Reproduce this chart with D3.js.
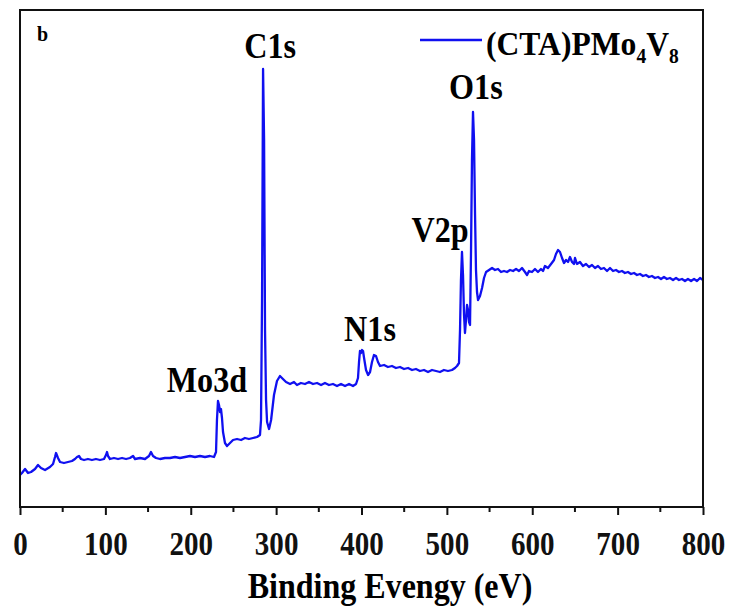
<!DOCTYPE html>
<html>
<head>
<meta charset="utf-8">
<script src="https://cdn.jsdelivr.net/npm/d3@7"></script>
<style>
  body { margin: 0; background: #fff; }
  text { font-family: "Liberation Serif", "Times New Roman", serif; font-weight: bold; }
</style>
</head>
<body>
<div id="chart"></div>
<script>
// Survey spectrum, binding energy (eV) and intensity (a.u.)
const energy = [
  0, 2.3, 5.9, 9.4, 12.9, 17.6, 21.1, 24.6, 29.3, 35.1, 38.7, 41, 42.2, 44.5, 46.9, 51.5, 56.2, 60.9, 64.4, 66.8,
  69.1, 71.4, 75, 79.6, 84.3, 89, 93.7, 98.4, 100.7, 101.9, 103.1, 105.4, 110.1, 114.8, 119.5, 124.2, 128.8, 132.4, 134.7, 140.6,
  146.4, 151.1, 153.4, 155.8, 159.3, 164, 169.8, 175.7, 181.6, 187.4, 193.3, 199.1, 205, 210.8, 216.7, 222.5, 227.2, 229.6, 230.7, 231.9,
  233.1, 234.3, 235.4, 236.6, 237.8, 240.1, 242.5, 246, 249.5, 254.2, 258.9, 263.5, 268.2, 272.9, 277.6, 281.1, 282.3, 283.5, 284.7, 285.9,
  287, 288.2, 289.4, 291.7, 294.1, 297.5, 301, 304.5, 308, 311.6, 316.3, 320.9, 324.4, 329.1, 333.8, 338.5, 343.2, 347.9, 352.6, 357.2,
  361.9, 366.6, 371.3, 376, 380.7, 385.4, 390, 393.6, 395.9, 397.1, 398.2, 399.4, 400.6, 401.8, 403, 405.3, 407.7, 410, 412.3, 414.6,
  417, 419.3, 421.7, 426.4, 431, 435.7, 440.4, 445.1, 449.8, 454.5, 459.2, 463.8, 468.5, 473.2, 477.9, 482.6, 487.3, 491.9, 496.6, 501.3,
  506, 509.5, 511.9, 514.2, 515.4, 516.5, 517.7, 518.9, 520.1, 521.2, 522.4, 523.6, 524.8, 525.9, 527.1, 528.3, 529.4, 530.6, 531.8, 533,
  534.1, 535.3, 536.5, 538.8, 541.2, 543.5, 545.9, 549.4, 552.9, 556.4, 559.9, 563.4, 566.9, 570.4, 574, 577.5, 581, 584.5, 588, 591.5,
  593.9, 596.2, 599.7, 603.2, 606.7, 610.2, 612.6, 614.9, 618.4, 622, 625.5, 627.8, 630.2, 632.5, 634.9, 637.2, 639.6, 641.9, 644.2, 646.6,
  648.9, 650.1, 652.4, 655.9, 659.4, 663, 666.5, 670, 673.5, 677, 680.5, 684, 687.6, 691.1, 694.6, 698.1, 701.6, 705.1, 708.6, 712.1,
  715.7, 719.2, 722.7, 726.2, 729.7, 733.2, 736.7, 740.2, 743.8, 747.3, 750.8, 754.3, 757.8, 761.3, 764.9, 768.4, 771.9, 775.4, 778.9, 782.4,
  786, 789.5, 793, 796.5, 800
];
const intensity = [
  32, 34, 38, 34, 35, 38, 42, 39, 37, 40, 43, 50, 54, 49, 45, 44, 45, 46, 48, 50,
  51, 48, 47, 48, 47, 48, 47, 48, 52, 55, 51, 48, 49, 48, 49, 48, 49, 51, 48, 49,
  48, 51, 55, 51, 49, 48, 49, 49, 50, 49, 50, 51, 50, 51, 50, 51, 50, 55, 87, 106,
  102, 95, 98, 89, 75, 64, 61, 64, 67, 68, 67, 69, 68, 69, 70, 72, 87, 207, 438, 367,
  177, 107, 85, 78, 87, 112, 126, 131, 128, 125, 123, 125, 122, 124, 123, 125, 123, 124, 122, 124,
  122, 123, 121, 123, 121, 123, 121, 123, 129, 145, 156, 154, 157, 156, 149, 137, 132, 135, 145, 152,
  151, 145, 141, 142, 140, 141, 139, 140, 138, 139, 137, 138, 136, 137, 135, 137, 136, 135, 137, 136,
  137, 139, 141, 144, 177, 227, 255, 232, 192, 174, 187, 202, 197, 185, 182, 257, 347, 395, 367, 292,
  237, 215, 207, 211, 219, 229, 235, 237, 239, 237, 238, 235, 236, 235, 237, 236, 238, 236, 239, 235,
  232, 236, 235, 238, 235, 238, 236, 241, 239, 243, 247, 253, 257, 255, 249, 244, 247, 245, 250, 245,
  243, 249, 243, 245, 241, 243, 240, 242, 239, 241, 238, 239, 236, 239, 236, 237, 235, 236, 234, 235,
  233, 234, 232, 233, 231, 232, 230, 231, 229, 230, 228, 230, 228, 229, 227, 229, 227, 228, 226, 228,
  226, 228, 226, 229, 227
];
const xTicks = [0, 100, 200, 300, 400, 500, 600, 700, 800];
const xMinorTicks = [50, 150, 250, 350, 450, 550, 650, 750];
const peakNames = ["Mo3d", "C1s", "N1s", "V2p", "O1s"];
const peakEnergy = [219, 293, 410, 492, 534];
const peakLabelI = [115, 449, 166, 265, 408];

const width = 732, height = 615;
const margin = { top: 10, right: 29, bottom: 108, left: 20 };

const svg = d3.select("#chart").append("svg")
  .attr("width", width)
  .attr("height", height);

const x = d3.scaleLinear().domain([0, 800]).range([margin.left, width - margin.right]);
const y = d3.scaleLinear().domain([0, 497]).range([height - margin.bottom, margin.top]);

const points = energy.map((e, i) => [e, intensity[i]]);

// spectrum
svg.append("path")
  .datum(points)
  .attr("fill", "none")
  .attr("stroke", "#1010f0")
  .attr("stroke-width", 2.3)
  .attr("stroke-linejoin", "round")
  .attr("d", d3.line().x(d => x(d[0])).y(d => y(d[1])));

// frame
svg.append("rect")
  .attr("x", x(0)).attr("y", y(497))
  .attr("width", x(800) - x(0)).attr("height", y(0) - y(497))
  .attr("fill", "none").attr("stroke", "#111").attr("stroke-width", 2);

// x axis
const axis = svg.append("g")
  .attr("transform", `translate(0,${y(0)})`)
  .call(d3.axisBottom(x).tickValues(xTicks).tickSize(8).tickFormat(d3.format("d")));
axis.select(".domain").remove();
axis.selectAll(".tick line").attr("stroke", "#111").attr("stroke-width", 2);
axis.selectAll(".tick text")
  .attr("y", 48).attr("dy", 0)
  .attr("fill", "#111")
  .style("font-size", "33px")
  .attr("transform", "scale(0.88,1)");

svg.append("g")
  .selectAll("line")
  .data(xMinorTicks)
  .join("line")
  .attr("x1", d => x(d)).attr("x2", d => x(d))
  .attr("y1", y(0)).attr("y2", y(0) + 5)
  .attr("stroke", "#111").attr("stroke-width", 2);

// axis title
svg.append("text")
  .attr("transform", "translate(390,598) scale(0.89,1)")
  .attr("text-anchor", "middle")
  .style("font-size", "36px")
  .text("Binding Evengy (eV)");

// panel letter
svg.append("text")
  .attr("transform", "translate(37,41)")
  .style("font-size", "20px")
  .text("b");

// peak labels
svg.append("g")
  .selectAll("text")
  .data(peakNames)
  .join("text")
  .attr("transform", (d, i) => `translate(${x(peakEnergy[i])},${y(peakLabelI[i])}) scale(0.92,1)`)
  .attr("text-anchor", "middle")
  .style("font-size", "35px")
  .text(d => d);

// legend
svg.append("line")
  .attr("x1", 420).attr("x2", 482)
  .attr("y1", 40).attr("y2", 40)
  .attr("stroke", "#1010f0").attr("stroke-width", 2.3);

const leg = svg.append("text")
  .attr("transform", "translate(486,55) scale(0.93,1)")
  .style("font-size", "34px");
leg.append("tspan").text("(CTA)PMo");
leg.append("tspan").attr("dy", 8).style("font-size", "21px").text("4");
leg.append("tspan").attr("dy", -8).text("V");
leg.append("tspan").attr("dy", 8).style("font-size", "21px").text("8");
</script>
</body>
</html>
